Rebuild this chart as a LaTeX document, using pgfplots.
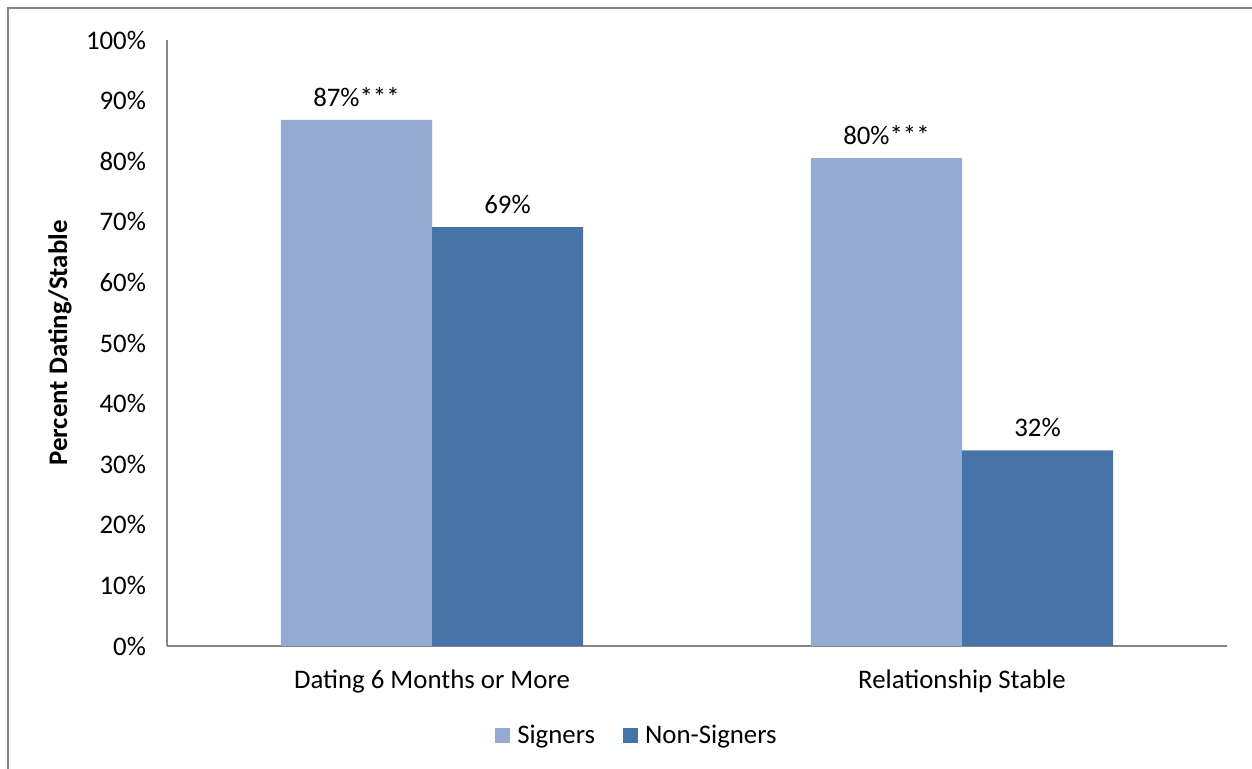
\documentclass[border=0pt]{standalone}
\usepackage{pgfplots}
\pgfplotsset{compat=1.18}
\usepackage{fontspec}
\setmainfont{Carlito}

\definecolor{signers}{RGB}{149,170,208}
\definecolor{nonsigners}{RGB}{70,116,168}
\definecolor{axisgray}{RGB}{134,134,134}

\begin{document}
\begin{tikzpicture}
\useasboundingbox (-83.5pt,-61.5pt) rectangle (542.5pt,323pt);
% outer chart frame (only left and top edges are visible)
\draw[axisgray, line width=1pt] (-79.5pt,-62pt) -- (-79.5pt,319pt) -- (543pt,319pt);

\begin{axis}[
    at={(0pt,0pt)}, anchor=south west,
    scale only axis,
    width=530pt, height=303pt,
    ybar=0pt,
    bar width=0.285,
    xmin=-0.5, xmax=1.5,
    ymin=0, ymax=100,
    xtick={0,1},
    xticklabels={Dating 6 Months or More, Relationship Stable},
    ytick={0,10,...,100},
    yticklabel={\pgfmathprintnumber{\tick}\%},
    /pgf/number format/assume math mode=true,
    tick style={draw=none},
    axis x line*=bottom,
    axis y line*=left,
    axis line style={axisgray, line width=1pt, -},
    x tick label style={font=\fontsize{13.4}{16}\selectfont, yshift=-4pt},
    y tick label style={font=\fontsize{13.4}{16}\selectfont, xshift=-7pt},
    ylabel={\textbf{Percent Dating/Stable}},
    ylabel style={font=\fontsize{13.4}{16}\selectfont, at={(-53.5pt,151.5pt)}, anchor=center},
    nodes near coords,
    point meta=explicit symbolic,
    every node near coord/.append style={font=\fontsize{13.4}{16}\selectfont, yshift=3pt},
    legend style={
        draw=none,
        at={(235.5pt,-45pt)}, anchor=center,
        legend columns=2,
        font=\fontsize{13.4}{16}\selectfont,
        /tikz/every even column/.append style={column sep=12pt},
    },
    legend image code/.code={\fill[#1] (0pt,-3.75pt) rectangle (7.5pt,3.75pt);},
    legend style={/tikz/every odd column/.append style={inner xsep=1pt}},
]
\addplot[fill=signers, draw=none] coordinates {
    (0,86.8) [87\%***]
    (1,80.5) [80\%***]
};
\addlegendentry{\hspace{1.5pt}Signers}
\addplot[fill=nonsigners, draw=none] coordinates {
    (0,69.1) [69\%]
    (1,32.3) [32\%]
};
\addlegendentry{\hspace{1.5pt}Non-Signers}
\end{axis}
\end{tikzpicture}
\end{document}
